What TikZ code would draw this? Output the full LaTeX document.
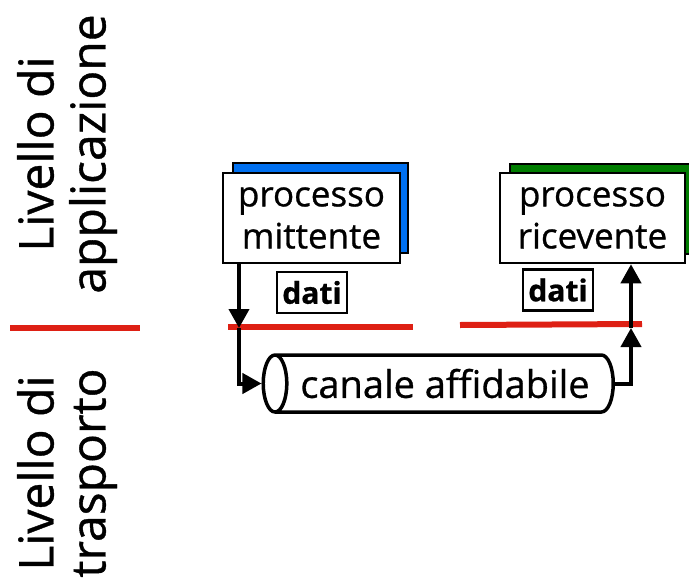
\documentclass[tikz,border=0pt]{standalone}
\usepackage{fontspec}
\setmainfont{Open Sans}[FakeBold=0.8]
\usetikzlibrary{arrows.meta,shapes,positioning}

\definecolor{sendblue}{RGB}{0,112,240}
\definecolor{recvgreen}{RGB}{0,125,0}
\definecolor{cutred}{RGB}{222,32,20}

\tikzset{
  procbox/.style={draw, line width=2.5pt, fill=white, minimum width=177pt, minimum height=90pt,
    align=center, inner sep=0pt, font=\fontsize{35}{42}\selectfont},
  datibox/.style={draw, line width=2.5pt, minimum width=70pt, minimum height=41pt,
    inner sep=0pt, font=\fontsize{30}{34}\selectfont\bfseries},
  layer/.style={rotate=90, align=center, font=\fontsize{48}{52}\selectfont},
  cut/.style={draw=cutred, line width=6pt},
  flow/.style={-{Triangle[length=19pt,width=20pt]}, line width=4pt}
}

\begin{document}
\begin{tikzpicture}[x=1pt, y=-1pt]
  \useasboundingbox (0,0) rectangle (689,579);

  % layer names
  \node[layer] (app) at (67,154) {Livello di\\applicazione};
  \node[layer] (trasp) at (67,473) {Livello di\\trasporto};

  % boundary between the two layers
  \draw[cut] (10,328) -- (140,328);
  \draw[cut] (228,327) -- (413,327);
  \draw[cut] (460,325) -- (642,324);

  % sending side
  \node[procbox, fill=sendblue, minimum width=175pt] (sendback) at (320.5,208) {};
  \node[procbox] (send) at (311.5,218) {processo\\mittente};
  \node[datibox] (sdati) at (312,292.5) {dati};

  % receiving side
  \node[procbox, fill=recvgreen, minimum width=185pt] (recvback) at (602.5,209) {};
  \node[procbox, minimum width=185pt] (recv) at (592.5,218) {processo\\ricevente};
  \node[datibox] (rdati) at (558,290) {dati};

  % the channel
  \node[draw, line width=3.5pt, cylinder, shape border rotate=180, aspect=0.8,
    minimum width=57pt, minimum height=350pt, inner sep=0pt,
    font=\fontsize{38}{40}\selectfont] (canale) at (445,383.5) {canale affidabile};

  \coordinate (sdown) at (239,328);
  \coordinate (rup) at (631,328);

  \draw[flow] (send.south -| sdown) -- (sdown);
  \draw[flow] (sdown) |- (canale.west);
  \draw[flow] (canale.east) -| (rup);
  \draw[flow] (rup) -- (recv.south -| rup);
\end{tikzpicture}
\end{document}
